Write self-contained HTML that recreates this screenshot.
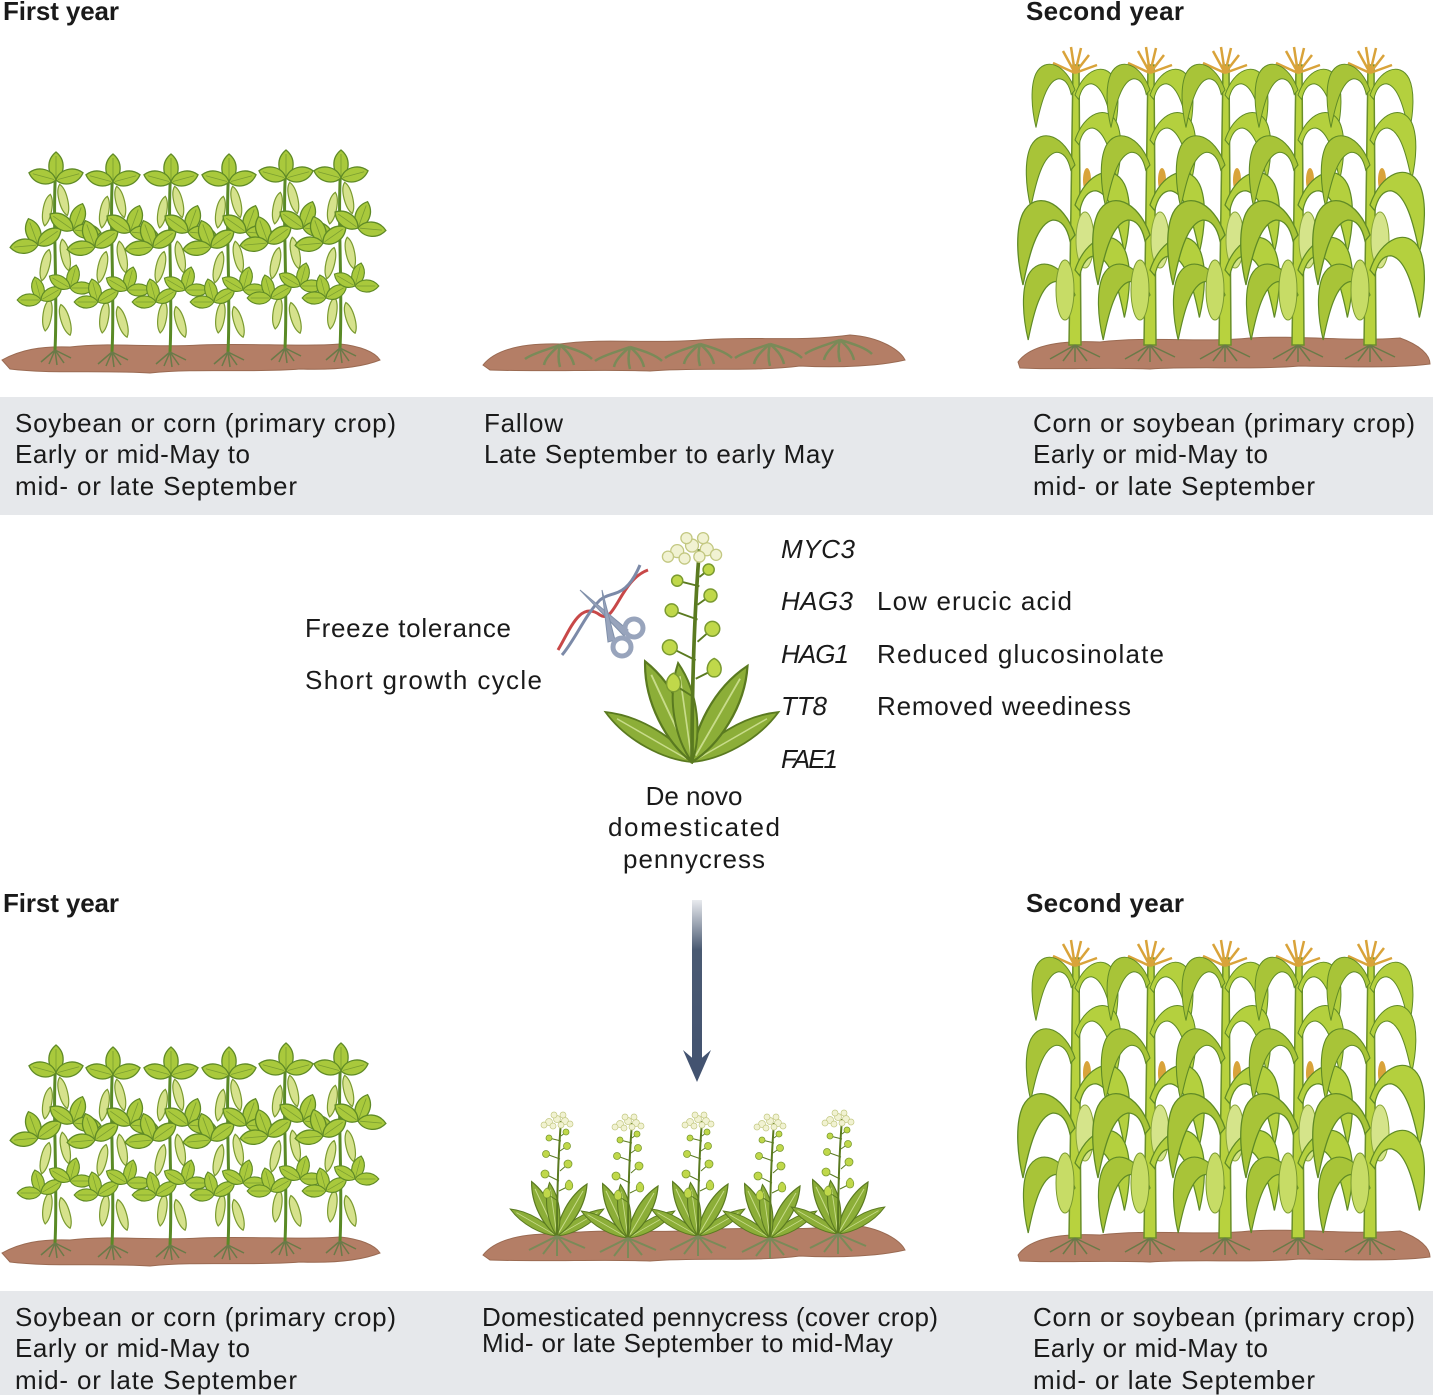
<!DOCTYPE html>
<html><head><meta charset="utf-8"><style>
html,body{margin:0;padding:0;background:#fff;}
svg{display:block;}
text{font-family:"Liberation Sans",sans-serif;fill:#1a1a1a;}
.t{font-size:26px;}
.b{font-size:26px;font-weight:bold;}
.i{font-size:26px;font-style:italic;}
</style></head><body>
<svg width="1433" height="1395" viewBox="0 0 1433 1395" xmlns="http://www.w3.org/2000/svg">
<defs>
<linearGradient id="ag" x1="0" y1="0" x2="0" y2="1">
<stop offset="0" stop-color="#e8eaee"/><stop offset="0.3" stop-color="#4a5a72"/><stop offset="1" stop-color="#435370"/>
</linearGradient>
<g id="lf"><path d="M0,0 C-9,-6 -10,-20 0,-28 C10,-20 9,-6 0,0Z" fill="#a9c93c" stroke="#5f8a26" stroke-width="1.3"/><path d="M0,-2 L0,-24" stroke="#7a9e30" stroke-width="0.8"/></g>
<g id="tri">
<use href="#lf"/>
<use href="#lf" transform="rotate(-75)"/>
<use href="#lf" transform="rotate(75)"/>
</g>
<g id="pod"><path d="M0,-16 C6,-10 6,10 1,16 C-5,10 -6,-10 0,-16Z" fill="#d6e28c" stroke="#7a9a30" stroke-width="1.2"/></g>
<g id="soy">
<path d="M0,0 C3,-60 -3,-130 1,-185" stroke="#5a8a26" stroke-width="3" fill="none"/>
<use href="#pod" transform="translate(-8,-140) rotate(12)"/>
<use href="#pod" transform="translate(8,-150) rotate(-12)"/>
<use href="#pod" transform="translate(-10,-85) rotate(15)"/>
<use href="#pod" transform="translate(10,-95) rotate(-10)"/>
<use href="#pod" transform="translate(-8,-35) rotate(10)"/>
<use href="#pod" transform="translate(10,-30) rotate(-15)"/>
<use href="#tri" transform="translate(1,-170)"/>
<use href="#tri" transform="translate(-17,-105) rotate(-20)"/>
<use href="#tri" transform="translate(18,-120) rotate(20)"/>
<use href="#tri" transform="translate(-14,-50) rotate(-15) scale(0.85)"/>
<use href="#tri" transform="translate(15,-62) rotate(15) scale(0.85)"/>
<path d="M0,0 l-14,12 M0,0 l-6,14 M0,0 l2,15 M0,0 l9,13 M0,0 l16,8" stroke="#6a7a48" stroke-width="1.5"/>
</g>
<g id="cleafR"><path d="M0,0 C12,-35 40,-45 52,-22 C60,-5 58,25 52,50 C46,20 38,-12 22,-15 C14,-15 8,-8 5,6Z" fill="#b4d03e" stroke="#5f8a26" stroke-width="1.3"/></g>
<g id="cleafL"><path d="M0,0 C-12,-35 -40,-45 -52,-22 C-60,-5 -58,25 -52,50 C-46,20 -38,-12 -22,-15 C-14,-15 -8,-8 -5,6Z" fill="#a8c438" stroke="#5f8a26" stroke-width="1.3"/></g>
<g id="corn">
<path d="M-6,0 L6,0 L4,-280 L-2,-280 Z" fill="#b8d23e" stroke="#6a8f2a" stroke-width="1.5"/>
<path d="M0,-272 l-12,-22 M0,-272 l-4,-26 M0,-272 l6,-25 M0,-272 l14,-18 M0,-272 l-22,-10 M0,-272 l22,-8" stroke="#d9a33a" stroke-width="2.5" fill="none"/>
<use href="#cleafL" transform="translate(0,-255) scale(0.75)"/>
<use href="#cleafR" transform="translate(0,-250) scale(0.75)"/>
<use href="#cleafR" transform="translate(0,-205) scale(0.8)"/>
<use href="#cleafL" transform="translate(0,-180) scale(0.85)"/>
<ellipse cx="12" cy="-165" rx="4" ry="12" fill="#d9a33a"/>
<use href="#cleafR" transform="translate(0,-140) scale(0.95)"/>
<use href="#cleafL" transform="translate(0,-110) scale(1)"/>
<ellipse cx="10" cy="-105" rx="9" ry="28" fill="#d5e48a" stroke="#8aa63a"/>
<use href="#cleafR" transform="translate(0,-75) scale(0.95)"/>
<use href="#cleafL" transform="translate(0,-50) scale(0.9)"/>
<ellipse cx="-10" cy="-55" rx="9" ry="30" fill="#c7dc66" stroke="#7a9a30"/>
<path d="M0,0 l-25,14 M0,0 l-12,16 M0,0 l0,17 M0,0 l12,16 M0,0 l25,12" stroke="#6a7a48" stroke-width="1.5"/>
</g>
<g id="pl"><path d="M0,0 C-8,-15 -10,-40 0,-60 C10,-40 8,-15 0,0Z" fill="#8cae38" stroke="#5a7a20" stroke-width="1.2"/><path d="M0,-4 L0,-52" stroke="#c8dc8a" stroke-width="1"/></g>
<g id="pcb">
<use href="#pl" transform="rotate(-60) scale(0.8,0.9)"/>
<use href="#pl" transform="rotate(60) scale(0.8,0.9)"/>
<use href="#pl" transform="rotate(-25)"/>
<use href="#pl" transform="rotate(30)"/>
<use href="#pl" transform="rotate(-8) scale(0.9)"/>
<path d="M0,0 C0,-50 2,-90 4,-115" stroke="#5a7a20" stroke-width="2" fill="none"/>
<g stroke="#5a7a20" stroke-width="1" fill="none">
<path d="M1,-35 L-10,-42 M2,-45 L12,-50 M2,-55 L-12,-62 M3,-65 L11,-72 M3,-77 L-11,-82 M3,-85 L10,-90 M4,-95 L-8,-98 M4,-100 L9,-104"/>
</g>
<g fill="#c0d84a" stroke="#7a9a30" stroke-width="0.8">
<path d="M-10,-48 c-5,2 -5,10 0,10 c5,0 5,-8 0,-10z"/><path d="M12,-56 c-5,2 -5,10 0,10 c5,0 5,-8 0,-10z"/>
<circle cx="-12" cy="-62" r="4"/><circle cx="11" cy="-72" r="4"/>
<circle cx="-11" cy="-82" r="3.5"/><circle cx="10" cy="-90" r="3.5"/><circle cx="-8" cy="-98" r="3"/><circle cx="9" cy="-104" r="3"/>
</g>
<g fill="#f1f2d2" stroke="#c3c882" stroke-width="0.7">
<circle cx="-8" cy="-114" r="3.5"/><circle cx="0" cy="-117" r="3.5"/><circle cx="8" cy="-115" r="3.5"/><circle cx="13" cy="-112" r="3"/>
<circle cx="-13" cy="-111" r="3"/><circle cx="4" cy="-111" r="3"/><circle cx="-4" cy="-110" r="3"/><circle cx="-3" cy="-121" r="3"/><circle cx="6" cy="-121" r="3"/>
</g>
</g>
<g id="pc">
<use href="#pcb"/>
<path d="M0,0 l-28,14 M0,0 l-14,18 M0,0 l0,20 M0,0 l14,17 M0,0 l28,12" stroke="#7a8a58" stroke-width="2"/>
</g>
<g id="roots"><path d="M0,0 c-15,5 -30,10 -35,14 M0,0 c-10,8 -15,14 -16,20 M0,0 c-2,8 -2,15 0,22 M0,0 c8,7 12,12 14,20 M0,0 c14,4 26,8 32,14" stroke="#7a8a58" stroke-width="2.5" fill="none"/></g>
<g id="soilL"><path d="M2,360 C20,350 40,346 70,347 C110,342 150,348 200,345 C250,343 300,347 340,344 C360,346 375,352 380,360 C360,368 330,370 300,369 C250,373 200,368 150,373 C100,370 50,374 10,369 Z" fill="#b47e66" stroke="#9a6a52" stroke-width="1"/></g>
<g id="soilM"><path d="M483,365 C495,350 520,343 560,344 C600,338 650,344 700,340 C750,336 800,342 850,335 C880,337 900,350 905,360 C880,366 840,368 800,366 C750,372 700,367 650,371 C600,369 550,372 490,370 Z" fill="#b47e66" stroke="#9a6a52" stroke-width="1"/></g>
<g id="soilR"><path d="M1018,362 C1030,345 1060,340 1100,342 C1150,336 1200,343 1250,338 C1300,335 1350,342 1400,338 C1420,345 1430,355 1430,364 C1400,368 1350,367 1300,366 C1250,370 1200,366 1150,369 C1100,367 1060,370 1020,368 Z" fill="#b47e66" stroke="#9a6a52" stroke-width="1"/></g>
</defs>

<rect x="0" y="397" width="1433" height="118" fill="#e6e8eb"/>
<rect x="0" y="1291" width="1433" height="104" fill="#e6e8eb"/>

<text class="b" x="3" y="20" textLength="116">First year</text>
<text class="b" x="1026" y="20" textLength="158">Second year</text>
<text class="b" x="3" y="912" textLength="116">First year</text>
<text class="b" x="1026" y="912" textLength="158">Second year</text>

<use href="#soilL"/>
<use href="#soy" x="55" y="350"/><use href="#soy" x="112" y="352"/><use href="#soy" x="170" y="352"/><use href="#soy" x="228" y="352"/><use href="#soy" x="285" y="348"/><use href="#soy" x="340" y="348"/>
<use href="#soilM"/>
<use href="#roots" x="560" y="345"/><use href="#roots" x="630" y="347"/><use href="#roots" x="700" y="344"/><use href="#roots" x="770" y="344"/><use href="#roots" x="840" y="340"/>
<use href="#soilR"/>
<use href="#corn" x="1075" y="345"/><use href="#corn" x="1150" y="345"/><use href="#corn" x="1225" y="345"/><use href="#corn" x="1298" y="345"/><use href="#corn" x="1370" y="345"/>

<g transform="translate(0,893)">
<use href="#soilL"/>
<use href="#soy" x="55" y="350"/><use href="#soy" x="112" y="352"/><use href="#soy" x="170" y="352"/><use href="#soy" x="228" y="352"/><use href="#soy" x="285" y="348"/><use href="#soy" x="340" y="348"/>
<use href="#soilR"/>
<use href="#corn" x="1075" y="345"/><use href="#corn" x="1150" y="345"/><use href="#corn" x="1225" y="345"/><use href="#corn" x="1298" y="345"/><use href="#corn" x="1370" y="345"/>
</g>
<use href="#soilM" transform="translate(0,890)"/>
<use href="#pc" x="557" y="1236"/><use href="#pc" x="628" y="1238"/><use href="#pc" x="698" y="1236"/><use href="#pc" x="770" y="1238"/><use href="#pc" x="838" y="1234"/>

<use href="#pcb" transform="translate(692,762) scale(1.85)"/>
<g fill="none" stroke-width="3">
<path d="M558,650 C570,630 580,600 600,615 C615,625 620,580 648,570" stroke="#c84848"/>
<path d="M562,655 C575,640 585,615 600,600 C612,590 625,600 640,565" stroke="#7c8aa8"/>
</g>
<g fill="#98a4bc" stroke="#8090aa">
<path d="M580,590 L628,630 L624,636 Z"/><path d="M602,590 L615,640 L608,642 Z"/>
</g>
<circle cx="634" cy="628" r="9" fill="none" stroke="#98a4bc" stroke-width="5"/>
<circle cx="622" cy="647" r="9" fill="none" stroke="#98a4bc" stroke-width="5"/>

<text class="t" x="305" y="637" textLength="206">Freeze tolerance</text>
<text class="t" x="305" y="689" textLength="237">Short growth cycle</text>
<text class="i" x="781" y="558" textLength="74">MYC3</text>
<text class="i" x="781" y="610" textLength="72">HAG3</text>
<text class="i" x="781" y="663" textLength="68">HAG1</text>
<text class="i" x="781" y="715" textLength="46">TT8</text>
<text class="i" x="781" y="768" textLength="57">FAE1</text>
<text class="t" x="877" y="610" textLength="195">Low erucic acid</text>
<text class="t" x="877" y="663" textLength="287">Reduced glucosinolate</text>
<text class="t" x="877" y="715" textLength="254">Removed weediness</text>
<text class="t" x="694" y="805" text-anchor="middle">De novo</text>
<text class="t" x="694" y="836" text-anchor="middle" textLength="172">domesticated</text>
<text class="t" x="694" y="868" text-anchor="middle" textLength="142">pennycress</text>

<rect x="692" y="900" width="10" height="165" fill="url(#ag)"/>
<path d="M683,1050 L697,1062 L711,1050 L697,1082 Z" fill="#435370"/>

<text class="t" x="15" y="432" textLength="381">Soybean or corn (primary crop)</text>
<text class="t" x="15" y="463" textLength="235">Early or mid-May to</text>
<text class="t" x="15" y="495" textLength="282">mid- or late September</text>
<text class="t" x="484" y="432" textLength="79">Fallow</text>
<text class="t" x="484" y="463" textLength="350">Late September to early May</text>
<text class="t" x="1033" y="432" textLength="382">Corn or soybean (primary crop)</text>
<text class="t" x="1033" y="463" textLength="235">Early or mid-May to</text>
<text class="t" x="1033" y="495" textLength="282">mid- or late September</text>

<text class="t" x="15" y="1326" textLength="381">Soybean or corn (primary crop)</text>
<text class="t" x="15" y="1357" textLength="235">Early or mid-May to</text>
<text class="t" x="15" y="1389" textLength="282">mid- or late September</text>
<text class="t" x="482" y="1326" textLength="456">Domesticated pennycress (cover crop)</text>
<text class="t" x="482" y="1352" textLength="411">Mid- or late September to mid-May</text>
<text class="t" x="1033" y="1326" textLength="382">Corn or soybean (primary crop)</text>
<text class="t" x="1033" y="1357" textLength="235">Early or mid-May to</text>
<text class="t" x="1033" y="1389" textLength="282">mid- or late September</text>
</svg>
</body></html>
